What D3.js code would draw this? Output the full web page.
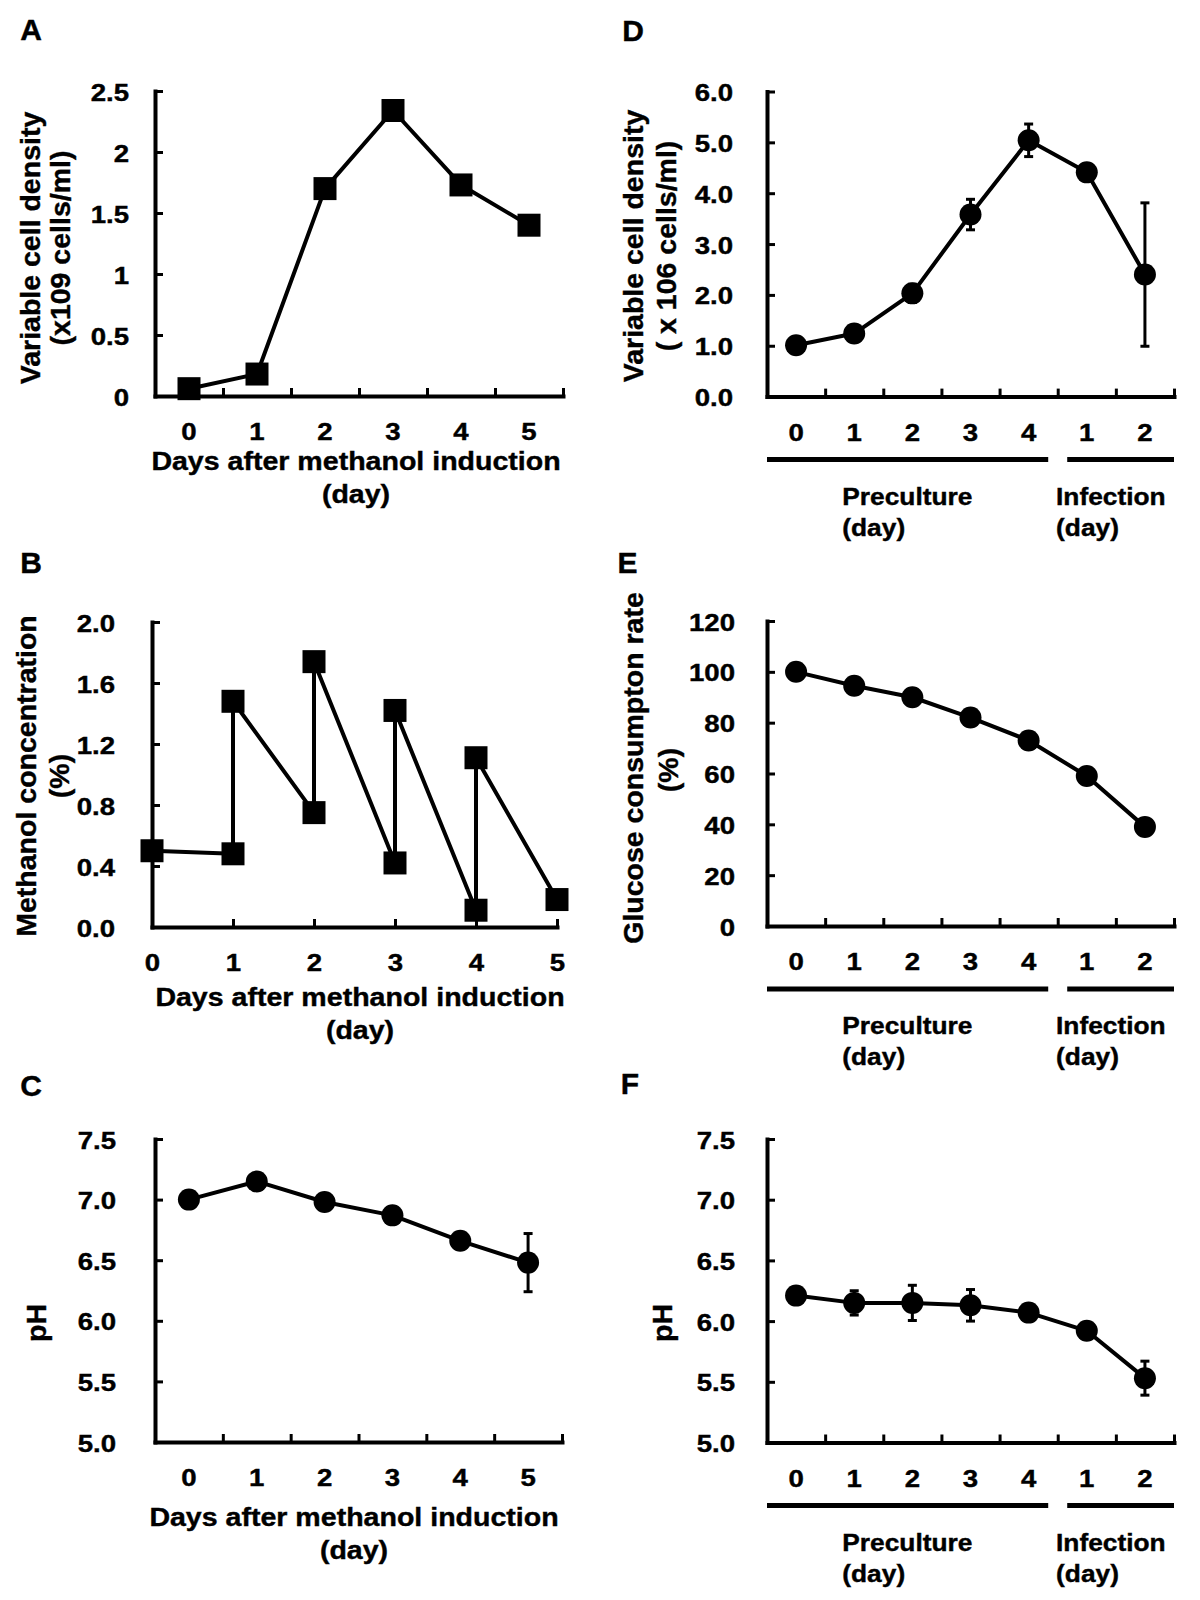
<!DOCTYPE html>
<html><head><meta charset="utf-8">
<script src="https://cdn.jsdelivr.net/npm/d3@7"></script>
<style>
body{margin:0;background:#fff;}
svg{display:block;background:#fff;font-family:"Liberation Sans",Arial,Helvetica,sans-serif;font-weight:bold;}
svg text{stroke:#000;stroke-width:0.4px;}
</style></head>
<body><svg id="chart" width="1200" height="1600"></svg>
<script>
// ---------------- DATA ----------------
const daysA = [0, 1, 2, 3, 4, 5];
const cellDensityA = [0.06, 0.18, 1.70, 2.34, 1.73, 1.40];
const yTicksA = [0, 0.5, 1, 1.5, 2, 2.5];

const methanolDays = [0, 1, 1, 2, 2, 3, 3, 4, 4, 5];
const methanolConc = [0.50, 0.48, 1.48, 0.75, 1.74, 0.42, 1.42, 0.11, 1.11, 0.18];
const xTicksB = [0, 1, 2, 3, 4, 5];
const yTicksB = [0, 0.4, 0.8, 1.2, 1.6, 2.0];

const daysC = [0, 1, 2, 3, 4, 5];
const pHC = [7.00, 7.15, 6.98, 6.87, 6.66, 6.48];
const pHCErr = [0, 0, 0, 0, 0, 0.24];
const yTicksPH = [5.0, 5.5, 6.0, 6.5, 7.0, 7.5];

const stageKeys = ["P0", "P1", "P2", "P3", "P4", "I1", "I2"];
const stageLabels = ["0", "1", "2", "3", "4", "1", "2"];
const groupNames = ["Preculture", "Infection"];
const groupMembers = [["P0", "P1", "P2", "P3", "P4"], ["I1", "I2"]];
const groupUnit = "(day)";

const cellDensityD = [1.01, 1.24, 2.03, 3.58, 5.04, 4.41, 2.40];
const cellDensityDErr = [0.04, 0.06, 0.18, 0.30, 0.32, 0.05, 1.41];
const yTicksD = [0, 1, 2, 3, 4, 5, 6];

const glucoseE = [100, 94.5, 90, 82, 73, 59, 39];
const yTicksE = [0, 20, 40, 60, 80, 100, 120];

const pHF = [6.21, 6.15, 6.15, 6.13, 6.07, 5.92, 5.53];
const pHFErr = [0, 0.10, 0.145, 0.13, 0.03, 0.04, 0.14];

// ---------------- STYLE ----------------
const TICK_FS = 24, TICK_SX = 1.15;
const TITLE_FS = 25.5, SX = 1.12;
const GROUP_FS = 23.5;
const YT_FS = 28.5;
const AXIS_W = 4, TICK_W = 3, LINE_W = 4;
const SQ = 23, R = 11;
const XLAB_OFF = 44;

const svg = d3.select("#chart");

function stretchText(g, x, y, str, size, anchor, sx) {
  return g.append("text")
    .attr("transform", `translate(${x},${y}) scale(${sx},1)`)
    .attr("text-anchor", anchor)
    .attr("font-size", size)
    .attr("fill", "#000")
    .text(str);
}
function vText(g, x, y, str) {
  return g.append("text")
    .attr("transform", `translate(${x},${y}) rotate(-90)`)
    .attr("text-anchor", "middle")
    .attr("font-size", YT_FS)
    .attr("fill", "#000")
    .text(str);
}
function styleAxis(ga) {
  ga.attr("font-size", null).attr("font-family", null);
  ga.select(".domain").attr("stroke", "#000").attr("stroke-width", AXIS_W).attr("stroke-linecap", "square");
  ga.selectAll(".tick line").attr("stroke", "#000").attr("stroke-width", TICK_W);
  ga.selectAll(".tick text").attr("fill", "#000").attr("font-size", TICK_FS);
}
function yAxis(g, y, x0, ticks, fmt, gap) {
  const ax = d3.axisLeft(y).tickValues(ticks).tickSizeInner(-8).tickSizeOuter(0)
    .tickPadding(gap).tickFormat(fmt);
  const ga = g.append("g").attr("transform", `translate(${x0},0)`).call(ax);
  styleAxis(ga);
  ga.selectAll(".tick text").attr("x", null).attr("dy", null)
    .attr("transform", `translate(${-gap},9) scale(${TICK_SX},1)`);
}
function xBandAxis(g, xb, yPix, labels) {
  const ax = d3.axisBottom(xb).tickSize(0).tickFormat((d, i) => labels[i]);
  const ga = g.append("g").attr("transform", `translate(0,${yPix})`).call(ax);
  styleAxis(ga);
  ga.selectAll(".tick text").attr("y", null).attr("dy", null)
    .attr("transform", `translate(0,${XLAB_OFF}) scale(${TICK_SX},1)`);
  const n = xb.domain().length;
  const lin = d3.scaleLinear().domain([0, n]).range(xb.range());
  const gt = g.append("g").attr("transform", `translate(0,${yPix})`)
    .call(d3.axisTop(lin).tickValues(d3.range(1, n + 1)).tickSize(8).tickFormat(""));
  gt.select(".domain").remove();
  styleAxis(gt);
}
function xLinAxis(g, xl, yPix, ticks) {
  const ax = d3.axisBottom(xl).tickValues(ticks).tickSize(0).tickFormat(d => String(d));
  const ga = g.append("g").attr("transform", `translate(0,${yPix})`).call(ax);
  styleAxis(ga);
  ga.selectAll(".tick text").attr("y", null).attr("dy", null)
    .attr("transform", `translate(0,${XLAB_OFF}) scale(${TICK_SX},1)`);
  const gt = g.append("g").attr("transform", `translate(0,${yPix})`)
    .call(d3.axisTop(xl).tickValues(ticks.filter(t => t > 0)).tickSize(8).tickFormat(""));
  gt.select(".domain").remove();
  styleAxis(gt);
}
function drawLine(g, pts) {
  g.append("path").datum(pts)
    .attr("d", d3.line().x(d => d[0]).y(d => d[1]))
    .attr("fill", "none").attr("stroke", "#000").attr("stroke-width", LINE_W)
    .attr("stroke-linejoin", "round");
}
function drawSquares(g, pts) {
  g.selectAll(null).data(pts).join("path")
    .attr("transform", d => `translate(${d[0]},${d[1]})`)
    .attr("d", d3.symbol().type(d3.symbolSquare).size(SQ * SQ))
    .attr("fill", "#000");
}
function drawCircles(g, pts) {
  g.selectAll(null).data(pts).join("circle")
    .attr("cx", d => d[0]).attr("cy", d => d[1]).attr("r", R).attr("fill", "#000");
}
function drawErr(g, xs, vals, errs, y) {
  vals.forEach((v, i) => {
    const e = errs[i];
    if (!e) return;
    const x = xs[i], y1 = y(v + e), y2 = y(v - e);
    g.append("line").attr("x1", x).attr("x2", x).attr("y1", y1).attr("y2", y2)
      .attr("stroke", "#000").attr("stroke-width", 3);
    [y1, y2].forEach(yy => g.append("line").attr("x1", x - 4.5).attr("x2", x + 4.5)
      .attr("y1", yy).attr("y2", yy).attr("stroke", "#000").attr("stroke-width", 3));
  });
}
function panelLetter(x, y, s) {
  svg.append("text").attr("x", x).attr("y", y).attr("text-anchor", "middle")
    .attr("font-size", 30).attr("fill", "#000").text(s);
}
function daysTitle(g, cx, y1) {
  stretchText(g, cx, y1, "Days after methanol induction", TITLE_FS, "middle", SX);
  stretchText(g, cx, y1 + 33, "(day)", TITLE_FS, "middle", SX);
}
function groupBars(g, xb, axisY) {
  const bw = xb.bandwidth();
  const ly = axisY + 63;
  const [r0, r1] = xb.range();
  groupMembers.forEach((mem, gi) => {
    const first = xb(mem[0]), last = xb(mem[mem.length - 1]) + bw;
    const a = gi === 0 ? r0 : first + 9.5;
    const b = gi === groupMembers.length - 1 ? r1 : last - 9.5;
    g.append("line").attr("x1", a).attr("x2", b).attr("y1", ly).attr("y2", ly)
      .attr("stroke", "#000").attr("stroke-width", 5);
    const center = d3.mean(mem, k => xb(k) + bw / 2) - 5;
    const t = stretchText(g, 0, 0, groupNames[gi], GROUP_FS, "start", SX);
    const w = t.node().getComputedTextLength() * SX;
    const left = center - w / 2;
    t.attr("transform", `translate(${left},${axisY + 108}) scale(${SX},1)`);
    stretchText(g, left, axisY + 139, groupUnit, GROUP_FS, "start", SX);
  });
}

// ---------------- PANEL A ----------------
{
  const g = svg.append("g");
  const x = d3.scaleBand().domain(daysA).range([155, 563]).padding(0);
  const y = d3.scaleLinear().domain([0, 2.5]).range([396, 91]);
  yAxis(g, y, 155, yTicksA, d => String(d), 26);
  xBandAxis(g, x, 396, daysA.map(String));
  const pts = daysA.map((d, i) => [x(d) + x.bandwidth() / 2, y(cellDensityA[i])]);
  drawLine(g, pts);
  drawSquares(g, pts);
  daysTitle(g, 356, 470);
  vText(g, 40, 248, "Variable cell density");
  vText(g, 70, 248, "(x109 cells/ml)");
  panelLetter(31, 39.5, "A");
}
// ---------------- PANEL B ----------------
{
  const g = svg.append("g");
  const x = d3.scaleLinear().domain([0, 5]).range([152, 557]);
  const y = d3.scaleLinear().domain([0, 2]).range([927, 622]);
  yAxis(g, y, 152, yTicksB, d3.format(".1f"), 37);
  xLinAxis(g, x, 927, xTicksB);
  const pts = methanolDays.map((d, i) => [x(d), y(methanolConc[i])]);
  drawLine(g, pts);
  drawSquares(g, pts);
  daysTitle(g, 360, 1006);
  vText(g, 36, 776, "Methanol concentration");
  vText(g, 69, 776, "(%)");
  panelLetter(31, 573, "B");
}
// ---------------- PANEL C ----------------
{
  const g = svg.append("g");
  const x = d3.scaleBand().domain(daysC).range([155, 562]).padding(0);
  const y = d3.scaleLinear().domain([5, 7.5]).range([1442, 1139]);
  yAxis(g, y, 155, yTicksPH, d3.format(".1f"), 39);
  xBandAxis(g, x, 1442, daysC.map(String));
  const xs = daysC.map(d => x(d) + x.bandwidth() / 2);
  const pts = daysC.map((d, i) => [xs[i], y(pHC[i])]);
  drawLine(g, pts);
  drawErr(g, xs, pHC, pHCErr, y);
  drawCircles(g, pts);
  daysTitle(g, 354, 1526);
  vText(g, 46, 1323, "pH");
  panelLetter(31, 1096, "C");
}
// ---------------- PANEL D ----------------
{
  const g = svg.append("g");
  const x = d3.scaleBand().domain(stageKeys).range([767, 1174]).padding(0);
  const y = d3.scaleLinear().domain([0, 6]).range([396.6, 91.5]);
  yAxis(g, y, 767, yTicksD, d3.format(".1f"), 34);
  xBandAxis(g, x, 396.6, stageLabels);
  const xs = stageKeys.map(k => x(k) + x.bandwidth() / 2);
  const pts = stageKeys.map((k, i) => [xs[i], y(cellDensityD[i])]);
  drawLine(g, pts);
  drawErr(g, xs, cellDensityD, cellDensityDErr, y);
  drawCircles(g, pts);
  groupBars(g, x, 396.6);
  vText(g, 643, 246, "Variable cell density");
  vText(g, 676, 246, "( x 106 cells/ml)");
  panelLetter(633, 41, "D");
}
// ---------------- PANEL E ----------------
{
  const g = svg.append("g");
  const x = d3.scaleBand().domain(stageKeys).range([767, 1174]).padding(0);
  const y = d3.scaleLinear().domain([0, 120]).range([926, 621]);
  yAxis(g, y, 767, yTicksE, d => String(d), 32);
  xBandAxis(g, x, 926, stageLabels);
  const pts = stageKeys.map((k, i) => [x(k) + x.bandwidth() / 2, y(glucoseE[i])]);
  drawLine(g, pts);
  drawCircles(g, pts);
  groupBars(g, x, 926);
  vText(g, 643, 768, "Glucose consumpton rate");
  vText(g, 678, 770, "(%)");
  panelLetter(627.5, 573, "E");
}
// ---------------- PANEL F ----------------
{
  const g = svg.append("g");
  const x = d3.scaleBand().domain(stageKeys).range([767, 1174]).padding(0);
  const y = d3.scaleLinear().domain([5, 7.5]).range([1442.5, 1139]);
  yAxis(g, y, 767, yTicksPH, d3.format(".1f"), 32);
  xBandAxis(g, x, 1442.5, stageLabels);
  const xs = stageKeys.map(k => x(k) + x.bandwidth() / 2);
  const pts = stageKeys.map((k, i) => [xs[i], y(pHF[i])]);
  drawLine(g, pts);
  drawErr(g, xs, pHF, pHFErr, y);
  drawCircles(g, pts);
  groupBars(g, x, 1442.5);
  vText(g, 672, 1323, "pH");
  panelLetter(630, 1094, "F");
}
</script>
</body></html>
